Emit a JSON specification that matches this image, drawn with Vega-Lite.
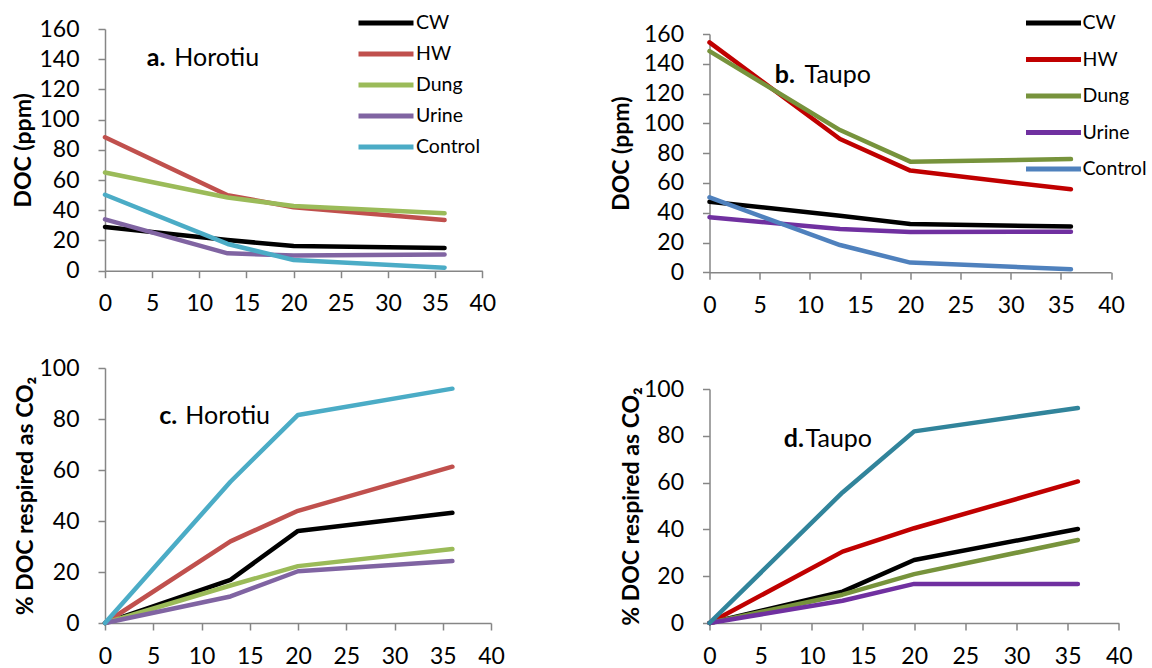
{
  "$schema": "https://vega.github.io/schema/vega-lite/v6.json",
  "padding": {"left": 12, "top": 13, "right": 0, "bottom": 0},
  "background": "white",
  "datasets": {
    "a": [
      {"series": "CW", "day": 0, "value": 29}, {"series": "CW", "day": 13, "value": 20.3}, {"series": "CW", "day": 20, "value": 16.3}, {"series": "CW", "day": 36, "value": 15},
      {"series": "HW", "day": 0, "value": 88.3}, {"series": "HW", "day": 13, "value": 50}, {"series": "HW", "day": 20, "value": 42}, {"series": "HW", "day": 36, "value": 33.5},
      {"series": "Dung", "day": 0, "value": 65}, {"series": "Dung", "day": 13, "value": 48.5}, {"series": "Dung", "day": 20, "value": 42.8}, {"series": "Dung", "day": 36, "value": 38},
      {"series": "Urine", "day": 0, "value": 34}, {"series": "Urine", "day": 13, "value": 11.5}, {"series": "Urine", "day": 20, "value": 10}, {"series": "Urine", "day": 36, "value": 10.7},
      {"series": "Control", "day": 0, "value": 50.3}, {"series": "Control", "day": 13, "value": 17.7}, {"series": "Control", "day": 20, "value": 7.1}, {"series": "Control", "day": 36, "value": 2}
    ],
    "b": [
      {"series": "CW", "day": 0, "value": 47.4}, {"series": "CW", "day": 13, "value": 38}, {"series": "CW", "day": 20, "value": 32.5}, {"series": "CW", "day": 36, "value": 30.7},
      {"series": "HW", "day": 0, "value": 154.4}, {"series": "HW", "day": 13, "value": 89.5}, {"series": "HW", "day": 20, "value": 68.3}, {"series": "HW", "day": 36, "value": 55.7},
      {"series": "Dung", "day": 0, "value": 148.5}, {"series": "Dung", "day": 13, "value": 95.5}, {"series": "Dung", "day": 20, "value": 74.3}, {"series": "Dung", "day": 36, "value": 76},
      {"series": "Urine", "day": 0, "value": 37}, {"series": "Urine", "day": 13, "value": 29}, {"series": "Urine", "day": 20, "value": 27}, {"series": "Urine", "day": 36, "value": 27.3},
      {"series": "Control", "day": 0, "value": 50.3}, {"series": "Control", "day": 13, "value": 18.3}, {"series": "Control", "day": 20, "value": 6.5}, {"series": "Control", "day": 36, "value": 2}
    ],
    "c": [
      {"series": "CW", "day": 0, "value": 0}, {"series": "CW", "day": 13, "value": 16.9}, {"series": "CW", "day": 20, "value": 36.1}, {"series": "CW", "day": 36, "value": 43.2},
      {"series": "HW", "day": 0, "value": 0}, {"series": "HW", "day": 13, "value": 32}, {"series": "HW", "day": 20, "value": 44}, {"series": "HW", "day": 36, "value": 61.3},
      {"series": "Dung", "day": 0, "value": 0}, {"series": "Dung", "day": 13, "value": 14.7}, {"series": "Dung", "day": 20, "value": 22.3}, {"series": "Dung", "day": 36, "value": 29},
      {"series": "Urine", "day": 0, "value": 0}, {"series": "Urine", "day": 13, "value": 10.4}, {"series": "Urine", "day": 20, "value": 20.3}, {"series": "Urine", "day": 36, "value": 24.3},
      {"series": "Control", "day": 0, "value": 0}, {"series": "Control", "day": 13, "value": 55.4}, {"series": "Control", "day": 20, "value": 81.6}, {"series": "Control", "day": 36, "value": 91.9}
    ],
    "d": [
      {"series": "CW", "day": 0, "value": 0}, {"series": "CW", "day": 13, "value": 13.4}, {"series": "CW", "day": 20, "value": 26.9}, {"series": "CW", "day": 36, "value": 40.2},
      {"series": "HW", "day": 0, "value": 0}, {"series": "HW", "day": 13, "value": 30.5}, {"series": "HW", "day": 20, "value": 40.5}, {"series": "HW", "day": 36, "value": 60.5},
      {"series": "Dung", "day": 0, "value": 0}, {"series": "Dung", "day": 13, "value": 12.1}, {"series": "Dung", "day": 20, "value": 20.9}, {"series": "Dung", "day": 36, "value": 35.5},
      {"series": "Urine", "day": 0, "value": 0}, {"series": "Urine", "day": 13, "value": 9.5}, {"series": "Urine", "day": 20, "value": 16.7}, {"series": "Urine", "day": 36, "value": 16.7},
      {"series": "Control", "day": 0, "value": 0}, {"series": "Control", "day": 13, "value": 55.8}, {"series": "Control", "day": 20, "value": 81.9}, {"series": "Control", "day": 36, "value": 91.9}
    ]
  },
  "bounds": "flush",
  "columns": 2,
  "spacing": {"row": 95, "column": 218.5},
  "resolve": {"scale": {"color": "independent", "x": "independent", "y": "independent"}, "legend": {"color": "independent"}},
  "concat": [
    {
      "width": 377.3,
      "height": 241.7,
      "layer": [
        {
          "data": {"name": "a"},
          "mark": {"type": "line", "strokeWidth": 4.5, "strokeCap": "round", "strokeJoin": "round"},
          "encoding": {
            "x": {"field": "day", "type": "quantitative", "scale": {"domain": [0, 40], "nice": false}, "axis": {"title": null, "values": [0, 5, 10, 15, 20, 25, 30, 35, 40]}},
            "y": {"field": "value", "type": "quantitative", "scale": {"domain": [0, 160], "nice": false}, "axis": {"title": "DOC (ppm)", "values": [0, 20, 40, 60, 80, 100, 120, 140, 160], "titlePadding": 3}},
            "color": {"field": "series", "type": "nominal", "sort": null,
              "scale": {"domain": ["CW", "HW", "Dung", "Urine", "Control"], "range": ["#000000", "#C0504D", "#9BBB59", "#8064A2", "#4BACC6"]},
              "legend": {"orient": "none", "legendX": 251, "legendY": -16, "title": null, "padding": 0, "symbolType": "stroke", "symbolSize": 3025, "symbolStrokeWidth": 5, "clipHeight": 20, "rowPadding": 11, "labelFont": "Lato", "labelFontSize": 19.5, "labelColor": "#000", "labelOffset": 0}}
          }
        },
        {
          "data": {"values": [{}]},
          "mark": {"type": "text", "font": "Lato", "fontSize": 25, "fontWeight": "bold", "align": "right", "baseline": "middle", "color": "#000"},
          "encoding": {
            "x": {"datum": 6.4, "type": "quantitative", "axis": {"title": null, "values": [0, 5, 10, 15, 20, 25, 30, 35, 40]}},
            "y": {"datum": 140.8, "type": "quantitative", "axis": {"title": "DOC (ppm)", "values": [0, 20, 40, 60, 80, 100, 120, 140, 160], "titlePadding": 3}},
            "text": {"value": "a."}}
        },
        {
          "data": {"values": [{}]},
          "mark": {"type": "text", "font": "Lato", "fontSize": 25, "align": "left", "baseline": "middle", "color": "#000"},
          "encoding": {
            "x": {"datum": 7.35, "type": "quantitative", "axis": {"title": null, "values": [0, 5, 10, 15, 20, 25, 30, 35, 40]}},
            "y": {"datum": 140.8, "type": "quantitative", "axis": {"title": "DOC (ppm)", "values": [0, 20, 40, 60, 80, 100, 120, 140, 160], "titlePadding": 3}},
            "text": {"value": "Horotiu"}}
        }
      ]
    },
    {
      "width": 401.6,
      "height": 243.3,
      "layer": [
        {
          "data": {"name": "b"},
          "mark": {"type": "line", "strokeWidth": 4.5, "strokeCap": "round", "strokeJoin": "round"},
          "encoding": {
            "x": {"field": "day", "type": "quantitative", "scale": {"domain": [0, 40], "nice": false}, "axis": {"title": null, "values": [0, 5, 10, 15, 20, 25, 30, 35, 40]}},
            "y": {"field": "value", "type": "quantitative", "scale": {"domain": [0, 160], "nice": false, "range": [243.3, 5]}, "axis": {"title": "DOC (ppm)", "values": [0, 20, 40, 60, 80, 100, 120, 140, 160], "titlePadding": 10}},
            "color": {"field": "series", "type": "nominal", "sort": null,
              "scale": {"domain": ["CW", "HW", "Dung", "Urine", "Control"], "range": ["#000000", "#C00000", "#77933C", "#7030A0", "#4F81BD"]},
              "legend": {"orient": "none", "legendX": 314, "legendY": -16, "title": null, "padding": 0, "symbolType": "stroke", "symbolSize": 3025, "symbolStrokeWidth": 5, "clipHeight": 20, "rowPadding": 16.5, "labelFont": "Lato", "labelFontSize": 19.5, "labelColor": "#000", "labelOffset": -1}}
          }
        },
        {
          "data": {"values": [{}]},
          "mark": {"type": "text", "font": "Lato", "fontSize": 25, "fontWeight": "bold", "align": "right", "baseline": "middle", "color": "#000"},
          "encoding": {
            "x": {"datum": 8.5, "type": "quantitative", "axis": {"title": null, "values": [0, 5, 10, 15, 20, 25, 30, 35, 40]}},
            "y": {"datum": 132.5, "type": "quantitative", "axis": {"title": "DOC (ppm)", "values": [0, 20, 40, 60, 80, 100, 120, 140, 160], "titlePadding": 10}},
            "text": {"value": "b."}}
        },
        {
          "data": {"values": [{}]},
          "mark": {"type": "text", "font": "Lato", "fontSize": 25, "align": "left", "baseline": "middle", "color": "#000"},
          "encoding": {
            "x": {"datum": 9.46, "type": "quantitative", "axis": {"title": null, "values": [0, 5, 10, 15, 20, 25, 30, 35, 40]}},
            "y": {"datum": 132.5, "type": "quantitative", "axis": {"title": "DOC (ppm)", "values": [0, 20, 40, 60, 80, 100, 120, 140, 160], "titlePadding": 10}},
            "text": {"value": "Taupo"}}
        }
      ]
    },
    {
      "width": 386,
      "height": 255,
      "layer": [
        {
          "data": {"name": "c"},
          "mark": {"type": "line", "strokeWidth": 4.5, "strokeCap": "round", "strokeJoin": "round"},
          "encoding": {
            "x": {"field": "day", "type": "quantitative", "scale": {"domain": [0, 40], "nice": false}, "axis": {"title": null, "values": [0, 5, 10, 15, 20, 25, 30, 35, 40]}},
            "y": {"field": "value", "type": "quantitative", "scale": {"domain": [0, 100], "nice": false}, "axis": {"title": "% DOC respired as CO₂", "values": [0, 20, 40, 60, 80, 100], "titlePadding": 1}},
            "color": {"field": "series", "type": "nominal", "sort": null,
              "scale": {"domain": ["CW", "HW", "Dung", "Urine", "Control"], "range": ["#000000", "#C0504D", "#9BBB59", "#8064A2", "#4BACC6"]},
              "legend": null}
          }
        },
        {
          "data": {"values": [{}]},
          "mark": {"type": "text", "font": "Lato", "fontSize": 25, "fontWeight": "bold", "align": "right", "baseline": "middle", "color": "#000"},
          "encoding": {
            "x": {"datum": 7.49, "type": "quantitative", "axis": {"title": null, "values": [0, 5, 10, 15, 20, 25, 30, 35, 40]}},
            "y": {"datum": 81.3, "type": "quantitative", "axis": {"title": "% DOC respired as CO₂", "values": [0, 20, 40, 60, 80, 100], "titlePadding": 1}},
            "text": {"value": "c."}}
        },
        {
          "data": {"values": [{}]},
          "mark": {"type": "text", "font": "Lato", "fontSize": 25, "align": "left", "baseline": "middle", "color": "#000"},
          "encoding": {
            "x": {"datum": 8.32, "type": "quantitative", "axis": {"title": null, "values": [0, 5, 10, 15, 20, 25, 30, 35, 40]}},
            "y": {"datum": 81.3, "type": "quantitative", "axis": {"title": "% DOC respired as CO₂", "values": [0, 20, 40, 60, 80, 100], "titlePadding": 1}},
            "text": {"value": "Horotiu"}}
        }
      ]
    },
    {
      "width": 409.3,
      "height": 255,
      "layer": [
        {
          "data": {"name": "d"},
          "mark": {"type": "line", "strokeWidth": 4.5, "strokeCap": "round", "strokeJoin": "round"},
          "encoding": {
            "x": {"field": "day", "type": "quantitative", "scale": {"domain": [0, 40], "nice": false}, "axis": {"title": null, "values": [0, 5, 10, 15, 20, 25, 30, 35, 40]}},
            "y": {"field": "value", "type": "quantitative", "scale": {"domain": [0, 100], "nice": false, "range": [255, 21]}, "axis": {"title": "% DOC respired as CO₂", "values": [0, 20, 40, 60, 80, 100], "titlePadding": 0}},
            "color": {"field": "series", "type": "nominal", "sort": null,
              "scale": {"domain": ["CW", "HW", "Dung", "Urine", "Control"], "range": ["#000000", "#C00000", "#77933C", "#7030A0", "#31849B"]},
              "legend": null}
          }
        },
        {
          "data": {"values": [{}]},
          "mark": {"type": "text", "font": "Lato", "fontSize": 25, "fontWeight": "bold", "align": "right", "baseline": "middle", "color": "#000"},
          "encoding": {
            "x": {"datum": 9.22, "type": "quantitative", "axis": {"title": null, "values": [0, 5, 10, 15, 20, 25, 30, 35, 40]}},
            "y": {"datum": 78.8, "type": "quantitative", "axis": {"title": "% DOC respired as CO₂", "values": [0, 20, 40, 60, 80, 100], "titlePadding": 0}},
            "text": {"value": "d."}}
        },
        {
          "data": {"values": [{}]},
          "mark": {"type": "text", "font": "Lato", "fontSize": 25, "align": "left", "baseline": "middle", "color": "#000"},
          "encoding": {
            "x": {"datum": 9.39, "type": "quantitative", "axis": {"title": null, "values": [0, 5, 10, 15, 20, 25, 30, 35, 40]}},
            "y": {"datum": 78.8, "type": "quantitative", "axis": {"title": "% DOC respired as CO₂", "values": [0, 20, 40, 60, 80, 100], "titlePadding": 0}},
            "text": {"value": "Taupo"}}
        }
      ]
    }
  ],
  "config": {
    "view": {"stroke": null},
    "axis": {
      "grid": false,
      "labelFont": "Lato", "labelFontSize": 23, "labelColor": "#000",
      "labelFlush": false, "labelOverlap": false,
      "domainColor": "#868686", "domainWidth": 1.5,
      "tickColor": "#868686", "tickWidth": 1.5, "tickSize": 7,
      "titleFont": "Lato", "titleFontSize": 23, "titleFontWeight": "bold", "titleColor": "#000",
      "labelPadding": 19
    },
    "axisX": {"labelPadding": 15}
  }
}
